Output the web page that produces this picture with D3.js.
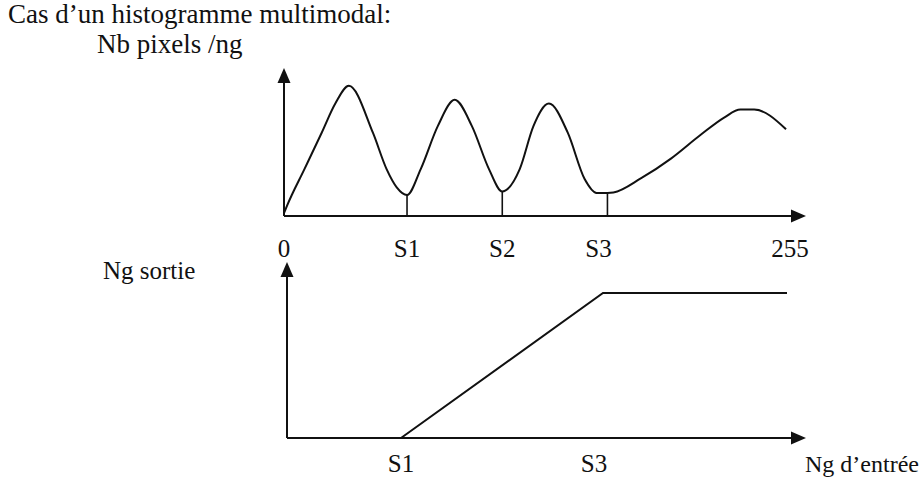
<!DOCTYPE html>
<html>
<head>
<meta charset="utf-8">
<script src="https://cdn.jsdelivr.net/npm/d3@7"></script>
<style>
  html, body { margin: 0; padding: 0; background: #fff; }
</style>
</head>
<body>
<svg id="fig" width="919" height="479"></svg>
<script>
// Multimodal grey-level histogram (grey level -> pixel count)
const greyLevels  = [0, 1.6, 10.3, 19, 26, 32.7, 44.8, 51.7, 56.8, 62, 68.9, 77.5, 86, 94.7, 103.3, 110, 118.8, 125.7, 133.5, 143, 151.5, 157.5, 163, 166, 180, 195, 210, 222, 230, 237, 253];
const pixelCounts = [2, 7.6, 33.5, 59.5, 80.7, 93, 59.5, 33.5, 20.5, 15, 33.5, 64.2, 83, 64.2, 33.5, 17.5, 33.5, 64.2, 80.3, 59.5, 26.4, 16.5, 16.5, 16.8, 27, 41, 58, 70.5, 76, 76, 62];

// Thresholds placed at the valleys of the histogram
const thresholdNames  = ["S1", "S2", "S3"];
const thresholdLevels = [62, 110, 163];

// Tick labels of the histogram axis
const topTickLabels = ["0", "S1", "S2", "S3", "255"];
const topTickLevels = [0, 62, 110, 163, 255];

// Output transfer function (input grey level -> output grey level)
const transferIn  = [62, 163, 255];
const transferOut = [0, 255, 255];
const bottomTickLabels = ["S1", "S3"];
const bottomTickLevels = [62, 163];

const svg = d3.select("#fig");
const ink = "#111";
const serif = "'Liberation Serif', 'Times New Roman', serif";

// Scales
const xTop = d3.scaleLinear().domain([0, 255]).range([284, 790]);
const yTop = d3.scaleLinear().domain([0, 100]).range([216, 76]);
const xBot = d3.scaleLinear().domain([0, 255]).range([277, 787]);
const yBot = d3.scaleLinear().domain([0, 255]).range([438, 293]);

function label(x, y, txt, size, anchor) {
  return svg.append("text")
    .attr("x", x).attr("y", y)
    .attr("font-family", serif).attr("font-size", size)
    .attr("fill", ink)
    .attr("text-anchor", anchor || "start")
    .text(txt);
}

// Arrow-tipped axis helper
function arrowAxis(x1, y1, x2, y2) {
  const g = svg.append("g");
  const len = 15, half = 6.5;
  const ang = Math.atan2(y2 - y1, x2 - x1);
  const bx = x2 - len * Math.cos(ang), by = y2 - len * Math.sin(ang);
  g.append("line").attr("x1", x1).attr("y1", y1).attr("x2", bx).attr("y2", by)
    .attr("stroke", ink).attr("stroke-width", 2);
  const px = -Math.sin(ang) * half, py = Math.cos(ang) * half;
  g.append("path")
    .attr("d", `M${x2},${y2}L${bx + px},${by + py}L${bx - px},${by - py}Z`)
    .attr("fill", ink);
}

// Title and axis names
label(8, 23, "Cas d\u2019un histogramme multimodal:", 27);
label(97, 53, "Nb pixels /ng", 27);
label(103, 279, "Ng sortie", 25);

// ---- Histogram panel ----
arrowAxis(xTop(0), yTop(0), xTop(0), 68);
arrowAxis(xTop(0), yTop(0), 806, yTop(0));

const histLine = d3.line()
  .x((d, i) => xTop(greyLevels[i]))
  .y(d => yTop(d))
  .curve(d3.curveMonotoneX);

svg.append("path").datum(pixelCounts)
  .attr("d", histLine)
  .attr("fill", "none").attr("stroke", ink).attr("stroke-width", 2);

// Vertical markers from the axis up to the valleys
thresholdLevels.forEach(t => {
  const idx = greyLevels.indexOf(t);
  svg.append("line")
    .attr("x1", xTop(t)).attr("x2", xTop(t))
    .attr("y1", yTop(0)).attr("y2", yTop(pixelCounts[idx]))
    .attr("stroke", ink).attr("stroke-width", 1.6);
});

const labelShift = { "S3": -9 };
topTickLabels.forEach((lab, i) => {
  label(xTop(topTickLevels[i]) + (labelShift[lab] || 0), 257, lab, 25, "middle");
});

// ---- Transfer function panel ----
arrowAxis(287, yBot(0), 287, 262);
arrowAxis(287, yBot(0), 806, yBot(0));

const transferLine = d3.line()
  .x((d, i) => xBot(transferIn[i]))
  .y(d => yBot(d));

svg.append("path").datum(transferOut)
  .attr("d", transferLine)
  .attr("fill", "none").attr("stroke", ink).attr("stroke-width", 2);

bottomTickLabels.forEach((lab, i) => {
  label(xBot(bottomTickLevels[i]) + (labelShift[lab] || 0), 472, lab, 25, "middle");
});
label(805, 472, "Ng d\u2019entrée", 24);
</script>
</body>
</html>
